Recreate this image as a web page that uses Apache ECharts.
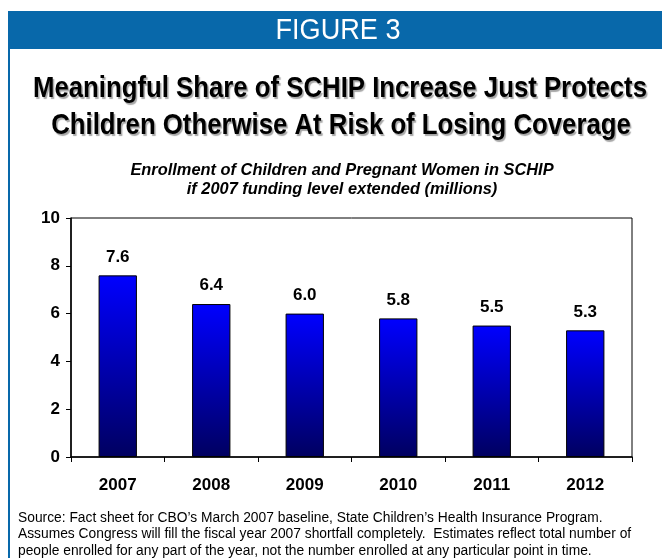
<!DOCTYPE html>
<html><head><meta charset="utf-8">
<script src="https://cdn.jsdelivr.net/npm/echarts@6/dist/echarts.min.js"></script>
<style>html,body{margin:0;padding:0;background:#fff}#c{width:662px;height:558px}</style>
</head><body><div id="c"></div>
<script>
var categories = ['2007','2008','2009','2010','2011','2012'];
var enrollment = [7.6, 6.4, 6.0, 5.8, 5.5, 5.3];
var yTicks = [0, 2, 4, 6, 8, 10];

var sans = "'Liberation Sans', Arial, sans-serif";
var ctx = document.createElement('canvas').getContext('2d');
function fitScale(text, font, target){ ctx.font = font; return target / ctx.measureText(text).width; }

var figFont = '30px ' + sans;
var figText = 'FIGURE 3';
var tFont = 'bold 30px ' + sans;
var t1 = 'Meaningful Share of SCHIP Increase Just Protects';
var t2 = 'Children Otherwise At Risk of Losing Coverage';
var sT = fitScale(t1, tFont, 614);

var chart = echarts.init(document.getElementById('c'));
chart.setOption({
  animation: false,
  graphic: [
    {type:'rect', shape:{x:8,y:11,width:654,height:38}, style:{fill:'#0868AA'}},
    {type:'rect', shape:{x:8,y:49,width:2,height:509}, style:{fill:'#0868AA'}},
    {type:'text', x:338, y:31, scaleX:fitScale(figText, figFont, 125), style:{text:figText, fill:'#fff', font:figFont, textAlign:'center', textVerticalAlign:'middle'}},
    {type:'text', x:340, y:89, scaleX:sT, style:{text:t1, fill:'#000', font:tFont, textAlign:'center', textVerticalAlign:'middle',
      textShadowColor:'rgba(0,0,0,0.35)', textShadowOffsetX:1.5, textShadowOffsetY:1.5, textShadowBlur:1}},
    {type:'text', x:341, y:126, scaleX:sT, style:{text:t2, fill:'#000', font:tFont, textAlign:'center', textVerticalAlign:'middle',
      textShadowColor:'rgba(0,0,0,0.35)', textShadowOffsetX:1.5, textShadowOffsetY:1.5, textShadowBlur:1}}
  ],
  title: [
    {text:'Enrollment of Children and Pregnant Women in SCHIP\nif 2007 funding level extended (millions)', left:342, top:161, textAlign:'center', padding:0,
     textStyle:{fontFamily:sans, fontStyle:'italic', fontWeight:'bold', fontSize:16.4, lineHeight:19, color:'#000'}},
    {text:'Source: Fact sheet for CBO\u2019s March 2007 baseline, State Children\u2019s Health Insurance Program.\nAssumes Congress will fill the fiscal year 2007 shortfall completely.  Estimates reflect total number of\npeople enrolled for any part of the year, not the number enrolled at any particular point in time.',
     left:18, top:510, padding:0, textStyle:{fontFamily:sans, fontWeight:'normal', fontSize:13.8, lineHeight:16.3, color:'#000'}}
  ],
  grid: {left:71, right:30, top:218, bottom:101, show:true, borderColor:'#000', borderWidth:1, backgroundColor:'transparent'},
  xAxis: {type:'category', data:categories, boundaryGap:true,
    axisLine:{lineStyle:{color:'#000', width:1.5}},
    axisTick:{show:true, length:5, inside:false, lineStyle:{color:'#000'}},
    axisLabel:{color:'#000', fontFamily:sans, fontWeight:'bold', fontSize:17, margin:20}},
  yAxis: {type:'value', min:yTicks[0], max:yTicks[yTicks.length-1], interval:2,
    axisLine:{show:true, lineStyle:{color:'#000', width:1.5}},
    axisTick:{show:true, length:5, lineStyle:{color:'#000'}},
    splitLine:{show:false},
    axisLabel:{color:'#000', fontFamily:sans, fontWeight:'bold', fontSize:17, margin:11}},
  series: [{type:'bar', data:enrollment, barWidth:'41%',
    itemStyle:{borderColor:'#000', borderWidth:1,
      color:new echarts.graphic.LinearGradient(0,0,0,1,[{offset:0,color:'#0000FF'},{offset:1,color:'#000060'}])},
    label:{show:true, position:'top', distance:10, color:'#000', fontFamily:sans, fontWeight:'bold', fontSize:17,
      formatter:function(p){return p.value.toFixed(1);}}}]
});
</script></body></html>
